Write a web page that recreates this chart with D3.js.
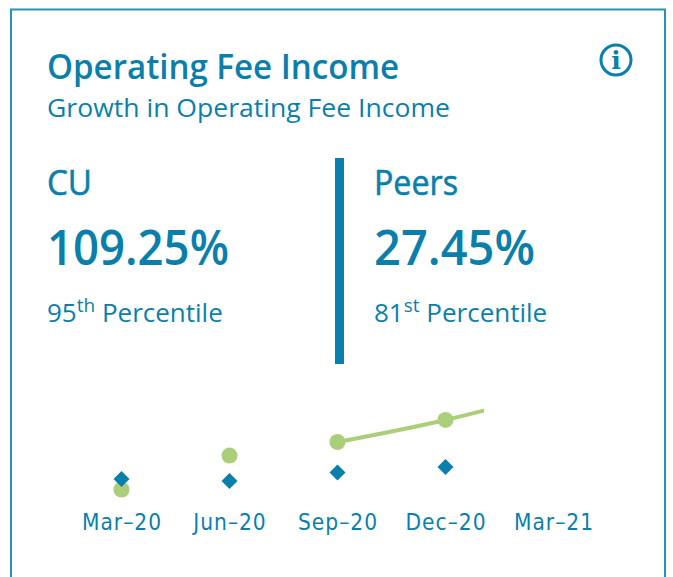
<!DOCTYPE html>
<html>
<head>
<meta charset="utf-8">
<script src="https://cdn.jsdelivr.net/npm/d3@7/dist/d3.min.js"></script>
<style>
html,body{margin:0;padding:0;background:#fff;overflow:hidden}
svg{display:block}
text{font-family:"Open Sans","Noto Sans",sans-serif;fill:#0b7fab}
</style>
</head>
<body>
<svg id="c" width="673" height="577"></svg>
<script>
const categories = ["Mar-20","Jun-20","Sep-20","Dec-20","Mar-21"];
const cuValues = [-3.1, 36, 51.6, 77, 109.25];
const peerValues = [9, 6.7, 16.5, 22.8, 27.45];
const lineStartIndex = 2;
const titleText = "Operating Fee Income";
const subtitleText = "Growth in Operating Fee Income";
const panelNames = ["CU","Peers"];
const panelValues = ["109.25%","27.45%"];
const panelRanks = ["95","81"];
const panelSuffixes = ["th","st"];
const blue = "#0b7fab", green = "#abce7b";

const svg = d3.select("#c");
svg.append("rect").attr("x",11).attr("y",9.5).attr("width",654).attr("height",600)
  .attr("fill","#fff").attr("stroke","#2a90b5").attr("stroke-width",2);

svg.append("text").attr("x",47).attr("y",79).attr("font-size",35).attr("font-weight",600)
  .attr("textLength",352).attr("lengthAdjust","spacingAndGlyphs").text(titleText);
svg.append("text").attr("x",47).attr("y",117).attr("font-size",26)
  .attr("textLength",403).attr("lengthAdjust","spacingAndGlyphs").text(subtitleText);

const info = svg.append("g").attr("transform","translate(616,60)");
info.append("circle").attr("r",15).attr("fill","none").attr("stroke",blue).attr("stroke-width",3);
info.append("text").attr("text-anchor","middle").attr("y",9).attr("font-size",25).attr("font-weight",700)
  .style("font-family","'DejaVu Serif'").text("i");

svg.append("rect").attr("x",335).attr("y",158).attr("width",9).attr("height",206).attr("fill",blue);

const px = [47, 374];
const nameW = [45, 84];
const valueW = [182, 161];
panelNames.forEach((name,i)=>{
  svg.append("text").attr("x",px[i]).attr("y",195).attr("font-size",35)
    .attr("stroke",blue).attr("stroke-width",0.6)
    .attr("textLength",nameW[i]).attr("lengthAdjust","spacingAndGlyphs").text(name);
  svg.append("text").attr("x",px[i]).attr("y",265).attr("font-size",49).attr("font-weight",600)
    .attr("textLength",valueW[i]).attr("lengthAdjust","spacingAndGlyphs").text(panelValues[i]);
  const t = svg.append("text").attr("x",px[i]).attr("y",322).attr("font-size",26);
  t.append("tspan").text(panelRanks[i]);
  t.append("tspan").attr("font-size",19).attr("dy",-10).text(panelSuffixes[i]);
  t.append("tspan").attr("dy",10).text(" Percentile");
});

const x = d3.scalePoint().domain(categories).range([121.5,553.5]);
const y = d3.scaleLinear().domain([0,100]).range([486.8,400]);

const defs = svg.append("defs");
defs.append("clipPath").attr("id","reveal").append("rect")
  .attr("x",100).attr("y",380).attr("width",384).attr("height",130);

const plot = svg.append("g").attr("clip-path","url(#reveal)");
const cuData = categories.map((c,i)=>({c,v:cuValues[i]}));
const peerData = categories.map((c,i)=>({c,v:peerValues[i]}));

plot.append("path").datum(cuData.slice(lineStartIndex))
  .attr("fill","none").attr("stroke",green).attr("stroke-width",4)
  .attr("d",d3.line().x(d=>x(d.c)).y(d=>y(d.v)).curve(d3.curveMonotoneX));
plot.selectAll("circle.cu").data(cuData).join("circle").attr("class","cu")
  .attr("cx",d=>x(d.c)).attr("cy",d=>y(d.v)).attr("r",8).attr("fill",green);
const diamond = d3.symbol().type(d3.symbolSquare).size(128)();
plot.selectAll("path.peer").data(peerData).join("path").attr("class","peer")
  .attr("d",diamond)
  .attr("transform",d=>`translate(${x(d.c)},${y(d.v)}) rotate(45)`).attr("fill",blue);

const axis = d3.axisBottom(x).tickSize(0).tickPadding(0).tickFormat(d=>d.replace("-","\u2013"));
const ag = svg.append("g").attr("transform","translate(0,510)").call(axis);
ag.select(".domain").remove();
ag.selectAll("text").attr("dy",0).attr("y",20).attr("font-size",22.5)
  .style("font-family","'DejaVu Sans Condensed','DejaVu Sans',sans-serif")
  .style("letter-spacing","1px").attr("fill",blue);
</script>
</body>
</html>
